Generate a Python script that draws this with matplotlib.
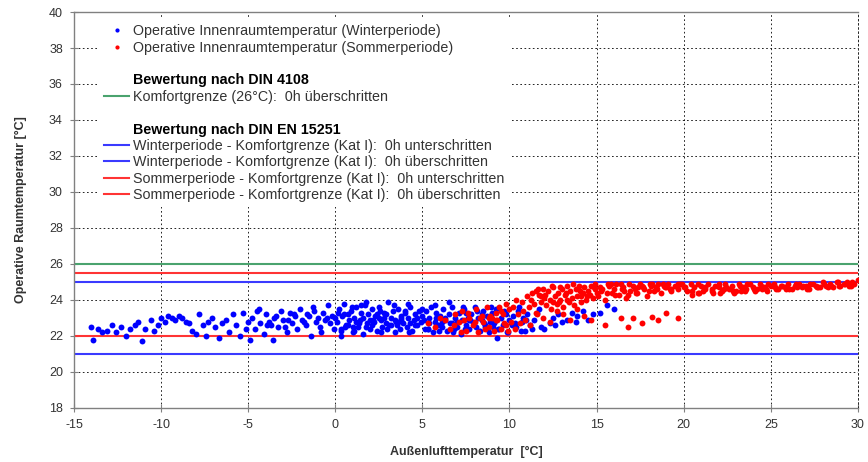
import matplotlib
matplotlib.use("Agg")
import matplotlib.pyplot as plt
from matplotlib.lines import Line2D

plt.rcParams['font.family'] = ['Liberation Sans', 'DejaVu Sans']
plt.rcParams['axes.unicode_minus'] = False

# Winterperiode: Außenlufttemperatur / operative Raumtemperatur
winter_x = [
    -14.0, -13.9, -13.6, -13.4, -13.1, -12.8, -12.6, -12.3, -12.0, -11.8,
    -11.5, -11.3, -11.1, -10.9, -10.6, -10.4, -10.2, -10.0, -9.8, -9.6,
    -9.4, -9.2, -9.0, -8.8, -8.6, -8.4, -8.2, -8.0, -7.8, -7.6,
    -7.4, -7.3, -7.1, -6.9, -6.7, -6.5, -6.3, -6.1, -5.9, -5.7,
    -5.5, -5.3, -5.1, -5.0, -4.9,
    -4.8, -4.6, -4.5, -4.3, -4.1, -4.0, -3.8, -3.6, -3.5, -3.3,
    -3.1, -3.0, -2.8, -2.6, -2.5, -2.3, -2.2, -2.0, -1.9, -1.7,
    -1.6, -1.4, -1.3, -1.1, -1.0, -0.9, -0.7, -0.6, -0.4, -0.3,
    -0.2, -0.1, 0.0, -4.4, -3.9, -3.4, -2.9, -2.4, -1.8, -1.2,
    -0.8, -0.5, -2.7, -1.5, -3.7,
    0.1, 0.2, 0.3, 0.4, 0.5, 0.6, 0.7, 0.8, 0.9, 1.0,
    1.1, 1.2, 1.3, 1.4, 1.5, 1.6, 1.7, 1.8, 1.9, 2.0,
    2.1, 2.2, 2.3, 2.4, 2.5, 2.6, 2.7, 2.8, 2.9, 3.0,
    3.1, 3.2, 3.3, 3.4, 3.5, 3.6, 3.7, 3.8, 3.9, 4.0,
    4.1, 4.2, 4.3, 4.4, 4.5, 4.6, 4.7, 4.8, 4.9, 5.0,
    0.3, 0.7, 1.2, 1.6, 2.1, 2.5, 2.9, 3.4, 3.8, 4.3,
    4.7, 0.5, 1.0, 1.5, 2.0, 2.4, 2.8, 3.2, 3.6, 4.0,
    5.1, 5.2, 5.3, 5.4, 5.5, 5.6, 5.7, 5.8, 5.9, 6.0,
    6.1, 6.2, 6.3, 6.4, 6.5, 6.6, 6.7, 6.8, 6.9, 7.0,
    7.1, 7.2, 7.3, 7.4, 7.5, 7.6, 7.7, 7.8, 7.9, 8.0,
    8.1, 8.2, 8.3, 8.4, 8.5, 8.6, 8.7, 8.8, 8.9, 9.0,
    9.1, 9.2, 9.4, 9.5, 9.6, 9.8, 9.9, 10.0, 5.4, 6.3,
    7.0, 7.7, 8.4, 9.1, 9.7, 5.8, 6.7, 7.5, 8.6, 9.3,
    10.2, 10.4, 10.5, 10.7, 10.9, 11.0, 11.2, 11.4, 11.6, 11.8,
    12.0, 12.3, 12.5, 12.8, 13.0, 13.3, 13.6, 13.9, 14.2, 14.5,
    14.8, 15.2, 15.6, 16.0, 10.3, 10.8, 11.3, 11.7, 12.6, 13.8,
    0.15, 0.55, 0.95, 1.35, 1.75, 2.15, 2.55, 2.95, 3.35, 3.75,
    4.15, 4.55, 4.95, 5.35, 5.75, 6.15, 6.55, 6.95, 7.35, 7.75,
    8.15, 8.55, 8.95, 9.35, 9.75, 10.15, 10.55, 10.95,
    0.35, 1.05, 1.75, 2.65, 3.55, 4.25, 5.15, 5.95, 6.75, 7.45,
    8.25, 9.05, 9.85, 10.65,
]
winter_y = [
    22.5, 21.8, 22.4, 22.2, 22.3, 22.6, 22.2, 22.5, 22.0, 22.4,
    22.6, 22.8, 21.7, 22.4, 22.9, 22.3, 22.6, 23.0, 22.8, 23.1,
    23.0, 22.9, 23.1, 23.0, 22.8, 22.7, 22.3, 22.1, 23.2, 22.6,
    22.0, 22.8, 23.0, 22.5, 21.9, 22.7, 22.9, 22.2, 23.2, 22.6,
    22.0, 23.3, 22.4, 22.8, 21.8,
    23.0, 22.4, 23.4, 22.7, 22.1, 23.2, 22.8, 21.8, 23.0, 22.5,
    23.4, 22.9, 22.2, 23.3, 22.7, 23.1, 22.4, 23.5, 22.9, 22.6,
    23.2, 22.0, 23.6, 22.8, 23.0, 22.5, 23.3, 22.9, 23.7, 22.7,
    23.1, 22.4, 23.0, 23.5, 22.6, 23.1, 22.5, 23.2, 22.8, 23.4,
    22.2, 23.0, 22.9, 23.1, 22.6,
    22.8, 23.5, 22.3, 23.1, 23.8, 22.6, 23.2, 22.9, 23.4, 22.2,
    23.0, 23.6, 22.5, 22.9, 23.3, 22.1, 23.7, 22.7, 23.2, 22.4,
    23.5, 22.8, 23.1, 22.3, 23.6, 22.9, 22.5, 23.3, 22.7, 23.9,
    22.6, 23.0, 23.4, 22.2, 22.8, 23.5, 22.4, 23.1, 22.7, 23.3,
    22.5, 23.0, 23.6, 22.3, 22.9, 23.2, 22.6, 23.4, 22.8, 23.1,
    22.4, 22.6, 22.8, 23.0, 22.6, 23.0, 23.2, 22.9, 23.0, 22.7,
    23.0, 23.2, 22.5, 23.7, 22.9, 23.2, 23.0, 22.6, 22.8, 23.4,
    22.9, 23.4, 22.4, 23.0, 23.6, 22.2, 22.8, 23.3, 22.6, 23.1,
    22.5, 23.5, 22.9, 22.3, 23.2, 22.7, 23.6, 22.4, 23.0, 22.8,
    23.3, 22.1, 22.9, 23.5, 22.6, 23.0, 22.4, 23.2, 22.8, 23.6,
    22.5, 23.0, 22.3, 22.9, 23.4, 22.6, 23.1, 22.2, 22.8, 23.3,
    22.7, 23.5, 22.4, 23.0, 22.6, 23.2, 22.2, 22.9, 22.7, 23.0,
    22.5, 22.9, 23.2, 22.8, 23.4, 23.0, 22.7, 23.3, 22.5, 21.9,
    23.1, 22.5, 23.4, 22.8, 22.3, 23.2, 22.6, 22.9, 23.3, 22.5,
    22.4, 22.7, 23.0, 23.2, 22.8, 22.9, 23.3, 23.1, 23.4, 22.9,
    23.2, 23.3, 23.7, 23.5, 22.7, 23.0, 22.4, 23.5, 22.6, 22.8,
    23.3, 22.5, 23.6, 22.7, 23.9, 22.9, 23.4, 22.4, 23.7, 22.9,
    23.8, 22.6, 23.5, 22.4, 23.7, 22.8, 23.9, 22.5, 23.6, 22.9,
    23.4, 22.7, 23.6, 22.4, 23.3, 22.6, 23.6, 22.9,
    22.0, 22.3, 22.5, 22.2, 22.6, 22.2, 22.4, 22.3, 22.2, 22.4,
    22.3, 22.5, 22.2, 22.3,
]

# Sommerperiode
summer_x = [
    5.3, 5.7, 6.0, 6.3, 6.6, 6.9, 7.1, 7.3, 7.5, 7.7,
    7.9, 8.1, 8.2, 8.4, 8.5, 8.7, 8.8, 9.0, 9.1, 9.2,
    9.3, 9.4, 9.5, 9.6, 9.7, 9.8, 9.9, 10.0, 6.8, 7.2,
    7.6, 8.0, 8.3, 8.6, 8.9, 9.2, 9.5, 9.8, 7.4, 8.8,
    10.1, 10.2, 10.3, 10.4, 10.5, 10.6, 10.7, 10.8, 10.9, 11.0,
    11.1, 11.2, 11.3, 11.4, 11.5, 11.6, 11.7, 11.8, 11.9, 12.0,
    12.1, 12.2, 12.3, 12.4, 12.5, 12.6, 12.7, 12.8, 12.9, 13.0,
    13.1, 13.2, 13.3, 13.4, 13.5, 13.6, 13.7, 13.8, 13.9, 14.0,
    14.1, 14.2, 14.3, 14.4, 14.5, 14.6, 14.7, 14.8, 14.9, 15.0,
    11.5, 11.9, 12.3, 12.7, 13.1, 13.5, 13.9, 14.3, 14.7, 12.5,
    13.3, 14.1, 14.9, 11.8, 12.9,
    15.1, 15.3, 15.5, 15.7, 15.9, 16.1, 16.3, 16.5, 16.7, 16.9,
    17.1, 17.3, 17.5, 17.7, 17.9, 18.1, 18.3, 18.5, 18.7, 18.9,
    19.1, 19.3, 19.5, 19.7, 19.9, 15.2, 15.6, 16.0, 16.4, 16.8,
    17.2, 17.6, 18.0, 18.4, 18.8, 19.2, 19.6, 20.0, 15.8, 16.6,
    17.4, 18.2, 19.0, 19.8,
    16.4, 17.1, 17.6, 18.2, 18.5, 19.0, 19.7, 15.5, 16.8,
    20.2, 20.4, 20.6, 20.8, 21.0, 21.2, 21.4, 21.6, 21.8, 22.0,
    22.2, 22.4, 22.6, 22.8, 23.0, 23.2, 23.4, 23.6, 23.8, 24.0,
    24.2, 24.4, 24.6, 24.8, 25.0, 25.2, 25.4, 25.6, 25.8, 26.0,
    26.2, 26.4, 26.6, 26.8, 27.0, 27.2, 27.4, 27.6, 27.8, 28.0,
    28.2, 28.4, 28.6, 28.8, 29.0, 29.2, 29.4, 29.6, 29.8, 30.0,
    20.5, 21.1, 21.7, 22.3, 22.9, 23.5, 24.1, 24.7, 25.3, 25.9,
    26.5, 27.1, 27.7, 28.3, 28.9, 29.5, 20.9, 22.1, 23.3, 24.5,
    11.25, 11.65, 12.05, 12.45, 12.85, 13.25, 13.65, 14.05, 14.45, 14.85,
    15.25, 15.65, 16.05, 16.45, 16.85, 17.25, 17.65, 18.05, 18.45, 18.85,
    19.25, 19.65, 20.05, 20.45, 20.85, 21.25, 21.65, 22.05, 22.45, 22.85,
    23.25, 23.65, 24.05, 24.45, 24.85, 25.25, 25.65, 26.05, 26.45, 26.85,
    27.25, 27.65, 28.05, 28.45, 28.85, 29.25, 29.65,
]
summer_y = [
    22.7, 22.5, 23.0, 22.9, 22.4, 23.2, 22.8, 23.4, 22.3, 23.0,
    22.6, 23.5, 22.2, 23.1, 22.8, 23.6, 22.5, 23.0, 22.3, 23.3,
    22.9, 23.6, 22.4, 23.2, 22.7, 23.8, 22.3, 23.5, 22.6, 22.2,
    23.3, 22.8, 23.0, 22.4, 23.1, 22.9, 23.4, 22.6, 22.9, 23.0,
    22.8, 23.6, 22.4, 24.0, 23.2, 22.7, 23.9, 23.4, 22.9, 24.2,
    23.6, 22.6, 24.4, 23.8, 24.5, 23.2, 24.3, 23.9, 24.6, 24.1,
    23.7, 24.5, 24.0, 23.5, 24.7, 24.2, 23.8, 24.4, 24.0, 24.6,
    23.6, 24.3, 24.8, 23.9, 24.5, 24.1, 23.7, 24.6, 24.2, 24.8,
    23.9, 24.4, 24.7, 24.0, 24.5, 24.3, 24.8, 24.1, 24.6, 24.4,
    23.3, 23.0, 22.8, 23.4, 23.2, 22.9, 23.5, 23.1, 22.9, 23.9,
    24.0, 24.2, 24.9, 24.2, 24.7,
    24.2, 24.6, 24.0, 24.8, 24.4, 24.9, 24.3, 24.7, 24.1, 24.5,
    24.8, 24.4, 24.9, 24.6, 24.2, 24.8, 24.5, 24.9, 24.4, 24.7,
    24.9, 24.5, 24.8, 24.6, 24.9, 24.7, 24.4, 24.6, 24.9, 24.3,
    24.6, 24.8, 24.5, 24.7, 24.9, 24.6, 24.8, 24.7, 24.9, 24.5,
    24.7, 24.9, 24.7, 24.9,
    23.0, 23.0, 22.7, 23.05, 22.9, 23.3, 23.0, 22.6, 22.5,
    24.5, 24.9, 24.7, 24.4, 24.8, 24.6, 24.9, 24.5, 24.8, 24.7,
    24.5, 24.9, 24.6, 24.8, 24.5, 24.9, 24.7, 24.6, 24.9, 24.7,
    24.6, 24.9, 24.7, 24.5, 24.8, 24.9, 24.6, 24.8, 24.7, 24.9,
    24.6, 24.8, 24.9, 24.7, 24.8, 24.6, 24.9, 24.8, 24.7, 25.0,
    24.8, 24.9, 24.7, 25.0, 24.8, 24.9, 25.0, 24.8, 24.9, 25.1,
    24.3, 24.5, 24.4, 24.6, 24.4, 24.5, 24.5, 24.6, 24.6, 24.6,
    24.7, 24.6, 24.7, 24.7, 24.8, 24.8, 24.4, 24.4, 24.5, 24.6,
    24.0, 24.6, 24.3, 24.8, 23.9, 24.4, 24.9, 24.5, 24.2, 24.7,
    24.5, 24.9, 24.3, 24.6, 24.9, 24.4, 24.7, 24.9, 24.6, 24.8,
    24.6, 24.9, 24.7, 24.5, 24.9, 24.7, 24.6, 24.9, 24.7, 24.5,
    24.8, 24.9, 24.6, 24.8, 24.9, 24.7, 24.8, 24.6, 24.9, 24.8,
    24.9, 24.7, 24.9, 24.8, 25.0, 24.9, 25.0,
]

# Komfortgrenzen
din4108_limit = 26.0
winter_lower, winter_upper = 21.0, 25.0
summer_lower, summer_upper = 22.0, 25.5

x_ticks = [-15, -10, -5, 0, 5, 10, 15, 20, 25, 30]
y_ticks = [18, 20, 22, 24, 26, 28, 30, 32, 34, 36, 38, 40]

BLUE = '#0000ff'
RED = '#ff0000'
LBLUE = '#3a3aff'
LRED = '#ff3434'
GREEN = '#4aa36e'
GRAY = '#808080'
TXT = '#333333'

fig = plt.figure(figsize=(8.68, 4.62), dpi=100)
ax = fig.add_axes([0.0853, 0.117, 0.903, 0.857])

ax.scatter(winter_x, winter_y, s=18, color=BLUE, linewidths=0, zorder=3)
ax.scatter(summer_x, summer_y, s=18, color=RED, linewidths=0, zorder=4)

ax.axhline(din4108_limit, color=GREEN, lw=1.5, zorder=2)
ax.axhline(summer_upper, color=LRED, lw=1.5, zorder=2)
ax.axhline(winter_upper, color=LBLUE, lw=1.5, zorder=2)
ax.axhline(summer_lower, color=LRED, lw=1.5, zorder=2)
ax.axhline(winter_lower, color=LBLUE, lw=1.5, zorder=2)

ax.set_xlim(-15, 30)
ax.set_ylim(18, 40)
ax.set_xticks(x_ticks)
ax.set_yticks(y_ticks)
ax.grid(True, color='black', linestyle=(0, (2, 3)), linewidth=0.6, zorder=1)
ax.tick_params(direction='inout', length=6, width=0.8, color=GRAY,
               labelcolor=TXT, labelsize=9, pad=5)
for side in ['left', 'bottom', 'top']:
    ax.spines[side].set_color(GRAY)
    ax.spines[side].set_linewidth(1.0)
ax.spines['right'].set_linestyle((0, (2, 3)))
ax.spines['right'].set_linewidth(0.6)

ax.set_xlabel('Außenlufttemperatur  [°C]', fontsize=9, fontweight='bold',
              color=TXT, labelpad=11)
ax.set_ylabel('Operative Raumtemperatur [°C]', fontsize=9, fontweight='bold',
              color=TXT, labelpad=16)

blank = Line2D([], [], linestyle='none')
handles = [
    Line2D([], [], marker='.', color=BLUE, linestyle='none', markersize=4),
    Line2D([], [], marker='.', color=RED, linestyle='none', markersize=4),
    blank, blank,
    Line2D([], [], color=GREEN, lw=1.5),
    blank, blank,
    Line2D([], [], color=LBLUE, lw=1.5),
    Line2D([], [], color=LBLUE, lw=1.5),
    Line2D([], [], color=LRED, lw=1.5),
    Line2D([], [], color=LRED, lw=1.5),
]
labels = [
    'Operative Innenraumtemperatur (Winterperiode)',
    'Operative Innenraumtemperatur (Sommerperiode)',
    ' ',
    'Bewertung nach DIN 4108',
    'Komfortgrenze (26°C):  0h überschritten',
    ' ',
    'Bewertung nach DIN EN 15251',
    'Winterperiode - Komfortgrenze (Kat I):  0h unterschritten',
    'Winterperiode - Komfortgrenze (Kat I):  0h überschritten',
    'Sommerperiode - Komfortgrenze (Kat I):  0h unterschritten',
    'Sommerperiode - Komfortgrenze (Kat I):  0h überschritten',
]
leg = ax.legend(handles, labels, loc='upper left', bbox_to_anchor=(0.032, 0.982),
                frameon=True, facecolor='white', edgecolor='none', framealpha=1,
                fancybox=False, fontsize=10.25, handlelength=1.75, handletextpad=0.3,
                labelspacing=0.17, borderaxespad=0, borderpad=0.35)
for t in leg.get_texts():
    t.set_color(TXT)
    if t.get_text().startswith('Bewertung'):
        t.set_fontweight('bold')
        t.set_color('black')

fig.savefig('out.png', dpi=100)
